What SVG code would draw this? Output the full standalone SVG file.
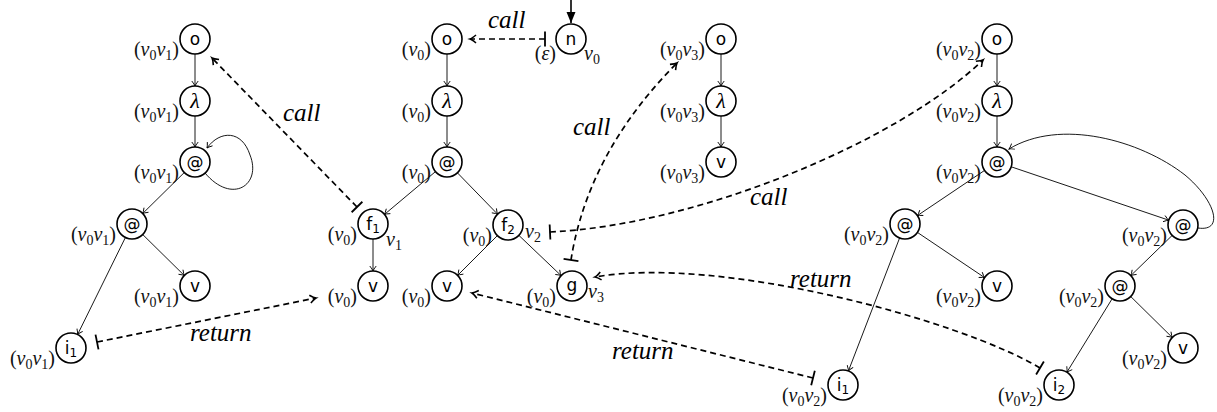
<svg xmlns="http://www.w3.org/2000/svg" width="1217" height="412" viewBox="0 0 1217 412">
<style>
circle{fill:#fff;stroke:#000;stroke-width:1.6}
.nt{font-family:"DejaVu Sans",sans-serif;font-size:17px;text-anchor:middle;fill:#000}
.lam{font-family:"Liberation Serif",serif;font-style:italic;font-size:22px;text-anchor:middle}
.ns{font-size:12px}
.lab{font-family:"Liberation Serif",serif;font-size:20px;text-anchor:end;fill:#111}
.lab2{font-family:"Liberation Serif",serif;font-size:20px;fill:#111}
.i{font-style:italic}
.s{font-size:14px}
.cl{font-family:"Liberation Serif",serif;font-style:italic;font-size:25px;fill:#000}
.e{fill:none;stroke:#000;stroke-width:0.9;marker-end:url(#ta)}
.d{fill:none;stroke:#000;stroke-width:1.7;stroke-dasharray:6 4;marker-start:url(#bar);marker-end:url(#da)}
</style>
<defs>
<marker id="ta" markerUnits="userSpaceOnUse" viewBox="-10 -10 20 20" markerWidth="20" markerHeight="20" refX="0" refY="0" orient="auto" overflow="visible">
<path d="M-5,-3.2 Q-1.5,-0.5 0,0 Q-1.5,0.5 -5,3.2" fill="none" stroke="#000" stroke-width="0.9"/>
</marker>
<marker id="da" markerUnits="userSpaceOnUse" viewBox="-10 -10 20 20" markerWidth="20" markerHeight="20" refX="0" refY="0" orient="auto" overflow="visible">
<path d="M-6,-4 Q-2,-0.6 0,0 Q-2,0.6 -6,4" fill="none" stroke="#000" stroke-width="1.6"/>
</marker>
<marker id="bar" markerUnits="userSpaceOnUse" viewBox="-10 -10 20 20" markerWidth="20" markerHeight="20" refX="0" refY="0" orient="auto" overflow="visible">
<path d="M0,-7.5 L0,7.5" fill="none" stroke="#000" stroke-width="1.8"/>
</marker>
<marker id="fa" markerUnits="userSpaceOnUse" viewBox="-10 -10 20 20" markerWidth="20" markerHeight="20" refX="0" refY="0" orient="auto" overflow="visible">
<path d="M-11,-4.5 L0,0 L-11,4.5 Z" fill="#000" stroke="none"/>
</marker>
</defs>

<g id="connectors">
<!-- tree A -->
<path class="e" d="M195,54 L195,86"/>
<path class="e" d="M195,116 L195,147"/>
<path class="e" d="M184.3,172.5 L142.7,213.5"/>
<path class="e" d="M142.7,234.5 L184.3,275.5"/>
<path class="e" d="M125.4,237.5 L77.6,334.5"/>
<path class="e" d="M205,173 C232,205 262,185 250,155 C242,130 220,130 207,148"/>
<!-- tree B -->
<path class="e" d="M447,54 L447,86"/>
<path class="e" d="M447,116 L447,147"/>
<path class="e" d="M435.5,171.6 L384.5,214.4"/>
<path class="e" d="M457.4,172.8 L497.6,214.2"/>
<path class="e" d="M373,239 L373,271"/>
<path class="e" d="M497.4,235.6 L457.6,275.4"/>
<path class="e" d="M518.9,235.4 L561.1,275.6"/>
<!-- tree C -->
<path class="e" d="M721,54 L721,86"/>
<path class="e" d="M721,116 L721,147"/>
<!-- tree D -->
<path class="e" d="M997,54 L997,86"/>
<path class="e" d="M997,116 L997,147"/>
<path class="e" d="M984.6,170.4 L917.4,215.6"/>
<path class="e" d="M1011.2,166.8 L1168.8,220.2"/>
<path class="e" d="M917.4,232.4 L984.6,277.6"/>
<path class="e" d="M899.6,238 L848.4,371"/>
<path class="e" d="M1172.2,235.4 L1130.8,275.6"/>
<path class="e" d="M1112.1,298.8 L1066.9,372.2"/>
<path class="e" d="M1130.7,296.5 L1172.3,337.5"/>
<path class="e" d="M1198,228 C1225,232 1215,200 1185,175 C1140,140 1060,118 1009,149"/>
<!-- entry arrow -->
<path d="M571,0 L571,23" fill="none" stroke="#000" stroke-width="1.6" marker-end="url(#fa)"/>
<!-- calls -->
<path class="d" d="M545,39 L470,39"/>
<path class="d" d="M357,207 L212,58"/>
<path class="d" d="M571,260 C578,215 600,140 677,63"/>
<path class="d" d="M550,232 C700,225 900,140 983,60"/>
<!-- returns -->
<path class="d" d="M97,342 L316,298"/>
<path class="d" d="M813,378 L472,293"/>
<path class="d" d="M1040,368 C960,320 720,255 595,277"/>
<text class="cl" x="488" y="28">call</text>
<text class="cl" x="283" y="121">call</text>
<text class="cl" x="573" y="135">call</text>
<text class="cl" x="750" y="205">call</text>
<text class="cl" x="190" y="341">return</text>
<text class="cl" x="612" y="359">return</text>
<text class="cl" x="790" y="287">return</text>
</g>

<!-- Tree A -->
<g id="A_o"><circle cx="195" cy="39" r="15"/><text class="nt" x="195" y="45">o</text>
<text class="lab" x="179" y="56">(<tspan class="i">v</tspan><tspan class="s" dy="4">0</tspan><tspan class="i" dy="-4">v</tspan><tspan class="s" dy="4">1</tspan><tspan dy="-4">)</tspan></text></g>
<g id="A_lam"><circle cx="195" cy="101" r="15"/><text class="lam" x="195" y="108">λ</text>
<text class="lab" x="179" y="118">(<tspan class="i">v</tspan><tspan class="s" dy="4">0</tspan><tspan class="i" dy="-4">v</tspan><tspan class="s" dy="4">1</tspan><tspan dy="-4">)</tspan></text></g>
<g id="A_at1"><circle cx="195" cy="162" r="15"/><text class="nt" x="195" y="168">@</text>
<text class="lab" x="179" y="179">(<tspan class="i">v</tspan><tspan class="s" dy="4">0</tspan><tspan class="i" dy="-4">v</tspan><tspan class="s" dy="4">1</tspan><tspan dy="-4">)</tspan></text></g>
<g id="A_at2"><circle cx="132" cy="224" r="15"/><text class="nt" x="132" y="230">@</text>
<text class="lab" x="116" y="241">(<tspan class="i">v</tspan><tspan class="s" dy="4">0</tspan><tspan class="i" dy="-4">v</tspan><tspan class="s" dy="4">1</tspan><tspan dy="-4">)</tspan></text></g>
<g id="A_v"><circle cx="195" cy="286" r="15"/><text class="nt" x="195" y="292">v</text>
<text class="lab" x="179" y="303">(<tspan class="i">v</tspan><tspan class="s" dy="4">0</tspan><tspan class="i" dy="-4">v</tspan><tspan class="s" dy="4">1</tspan><tspan dy="-4">)</tspan></text></g>
<g id="A_i1"><circle cx="71" cy="348" r="15"/><text class="nt" x="71" y="354">i<tspan class="ns" dy="3">1</tspan></text>
<text class="lab" x="55" y="365">(<tspan class="i">v</tspan><tspan class="s" dy="4">0</tspan><tspan class="i" dy="-4">v</tspan><tspan class="s" dy="4">1</tspan><tspan dy="-4">)</tspan></text></g>

<!-- Tree B -->
<g id="B_n"><circle cx="571" cy="39" r="15"/><text class="nt" x="571" y="45">n</text>
<text class="lab" x="556" y="60">(<tspan class="i">ε</tspan>)</text>
<text class="lab2" x="584" y="60"><tspan class="i">v</tspan><tspan class="s" dy="4">0</tspan></text></g>
<g id="B_o"><circle cx="447" cy="39" r="15"/><text class="nt" x="447" y="45">o</text>
<text class="lab" x="431" y="56">(<tspan class="i">v</tspan><tspan class="s" dy="4">0</tspan><tspan dy="-4">)</tspan></text></g>
<g id="B_lam"><circle cx="447" cy="101" r="15"/><text class="lam" x="447" y="108">λ</text>
<text class="lab" x="431" y="118">(<tspan class="i">v</tspan><tspan class="s" dy="4">0</tspan><tspan dy="-4">)</tspan></text></g>
<g id="B_at"><circle cx="447" cy="162" r="15"/><text class="nt" x="447" y="168">@</text>
<text class="lab" x="431" y="179">(<tspan class="i">v</tspan><tspan class="s" dy="4">0</tspan><tspan dy="-4">)</tspan></text></g>
<g id="B_f1"><circle cx="373" cy="224" r="15"/><text class="nt" x="373" y="230">f<tspan class="ns" dy="3">1</tspan></text>
<text class="lab" x="357" y="241">(<tspan class="i">v</tspan><tspan class="s" dy="4">0</tspan><tspan dy="-4">)</tspan></text>
<text class="lab2" x="386" y="246"><tspan class="i">v</tspan><tspan class="s" dy="4">1</tspan></text></g>
<g id="B_f2"><circle cx="508" cy="225" r="15"/><text class="nt" x="508" y="231">f<tspan class="ns" dy="3">2</tspan></text>
<text class="lab" x="492" y="242">(<tspan class="i">v</tspan><tspan class="s" dy="4">0</tspan><tspan dy="-4">)</tspan></text>
<text class="lab2" x="525" y="238"><tspan class="i">v</tspan><tspan class="s" dy="4">2</tspan></text></g>
<g id="B_v1"><circle cx="373" cy="286" r="15"/><text class="nt" x="373" y="292">v</text>
<text class="lab" x="357" y="303">(<tspan class="i">v</tspan><tspan class="s" dy="4">0</tspan><tspan dy="-4">)</tspan></text></g>
<g id="B_v2"><circle cx="447" cy="286" r="15"/><text class="nt" x="447" y="292">v</text>
<text class="lab" x="431" y="303">(<tspan class="i">v</tspan><tspan class="s" dy="4">0</tspan><tspan dy="-4">)</tspan></text></g>
<g id="B_g"><circle cx="572" cy="286" r="15"/><text class="nt" x="572" y="291">g</text>
<text class="lab" x="556" y="303">(<tspan class="i">v</tspan><tspan class="s" dy="4">0</tspan><tspan dy="-4">)</tspan></text>
<text class="lab2" x="588" y="298"><tspan class="i">v</tspan><tspan class="s" dy="4">3</tspan></text></g>

<!-- Tree C -->
<g id="C_o"><circle cx="721" cy="39" r="15"/><text class="nt" x="721" y="45">o</text>
<text class="lab" x="705" y="56">(<tspan class="i">v</tspan><tspan class="s" dy="4">0</tspan><tspan class="i" dy="-4">v</tspan><tspan class="s" dy="4">3</tspan><tspan dy="-4">)</tspan></text></g>
<g id="C_lam"><circle cx="721" cy="101" r="15"/><text class="lam" x="721" y="108">λ</text>
<text class="lab" x="705" y="118">(<tspan class="i">v</tspan><tspan class="s" dy="4">0</tspan><tspan class="i" dy="-4">v</tspan><tspan class="s" dy="4">3</tspan><tspan dy="-4">)</tspan></text></g>
<g id="C_v"><circle cx="721" cy="162" r="15"/><text class="nt" x="721" y="168">v</text>
<text class="lab" x="705" y="179">(<tspan class="i">v</tspan><tspan class="s" dy="4">0</tspan><tspan class="i" dy="-4">v</tspan><tspan class="s" dy="4">3</tspan><tspan dy="-4">)</tspan></text></g>

<!-- Tree D -->
<g id="D_o"><circle cx="997" cy="39" r="15"/><text class="nt" x="997" y="45">o</text>
<text class="lab" x="981" y="56">(<tspan class="i">v</tspan><tspan class="s" dy="4">0</tspan><tspan class="i" dy="-4">v</tspan><tspan class="s" dy="4">2</tspan><tspan dy="-4">)</tspan></text></g>
<g id="D_lam"><circle cx="997" cy="101" r="15"/><text class="lam" x="997" y="108">λ</text>
<text class="lab" x="981" y="118">(<tspan class="i">v</tspan><tspan class="s" dy="4">0</tspan><tspan class="i" dy="-4">v</tspan><tspan class="s" dy="4">2</tspan><tspan dy="-4">)</tspan></text></g>
<g id="D_at"><circle cx="997" cy="162" r="15"/><text class="nt" x="997" y="168">@</text>
<text class="lab" x="981" y="179">(<tspan class="i">v</tspan><tspan class="s" dy="4">0</tspan><tspan class="i" dy="-4">v</tspan><tspan class="s" dy="4">2</tspan><tspan dy="-4">)</tspan></text></g>
<g id="D_at2"><circle cx="905" cy="224" r="15"/><text class="nt" x="905" y="230">@</text>
<text class="lab" x="889" y="241">(<tspan class="i">v</tspan><tspan class="s" dy="4">0</tspan><tspan class="i" dy="-4">v</tspan><tspan class="s" dy="4">2</tspan><tspan dy="-4">)</tspan></text></g>
<g id="D_v1"><circle cx="997" cy="286" r="15"/><text class="nt" x="997" y="292">v</text>
<text class="lab" x="981" y="303">(<tspan class="i">v</tspan><tspan class="s" dy="4">0</tspan><tspan class="i" dy="-4">v</tspan><tspan class="s" dy="4">2</tspan><tspan dy="-4">)</tspan></text></g>
<g id="D_at3"><circle cx="1183" cy="225" r="15"/><text class="nt" x="1183" y="231">@</text>
<text class="lab" x="1167" y="242">(<tspan class="i">v</tspan><tspan class="s" dy="4">0</tspan><tspan class="i" dy="-4">v</tspan><tspan class="s" dy="4">2</tspan><tspan dy="-4">)</tspan></text></g>
<g id="D_at4"><circle cx="1120" cy="286" r="15"/><text class="nt" x="1120" y="292">@</text>
<text class="lab" x="1104" y="303">(<tspan class="i">v</tspan><tspan class="s" dy="4">0</tspan><tspan class="i" dy="-4">v</tspan><tspan class="s" dy="4">2</tspan><tspan dy="-4">)</tspan></text></g>
<g id="D_v2"><circle cx="1183" cy="348" r="15"/><text class="nt" x="1183" y="354">v</text>
<text class="lab" x="1167" y="365">(<tspan class="i">v</tspan><tspan class="s" dy="4">0</tspan><tspan class="i" dy="-4">v</tspan><tspan class="s" dy="4">2</tspan><tspan dy="-4">)</tspan></text></g>
<g id="D_i1"><circle cx="843" cy="385" r="15"/><text class="nt" x="843" y="391">i<tspan class="ns" dy="3">1</tspan></text>
<text class="lab" x="827" y="402">(<tspan class="i">v</tspan><tspan class="s" dy="4">0</tspan><tspan class="i" dy="-4">v</tspan><tspan class="s" dy="4">2</tspan><tspan dy="-4">)</tspan></text></g>
<g id="D_i2"><circle cx="1059" cy="385" r="15"/><text class="nt" x="1059" y="391">i<tspan class="ns" dy="3">2</tspan></text>
<text class="lab" x="1043" y="402">(<tspan class="i">v</tspan><tspan class="s" dy="4">0</tspan><tspan class="i" dy="-4">v</tspan><tspan class="s" dy="4">2</tspan><tspan dy="-4">)</tspan></text></g>
</svg>
